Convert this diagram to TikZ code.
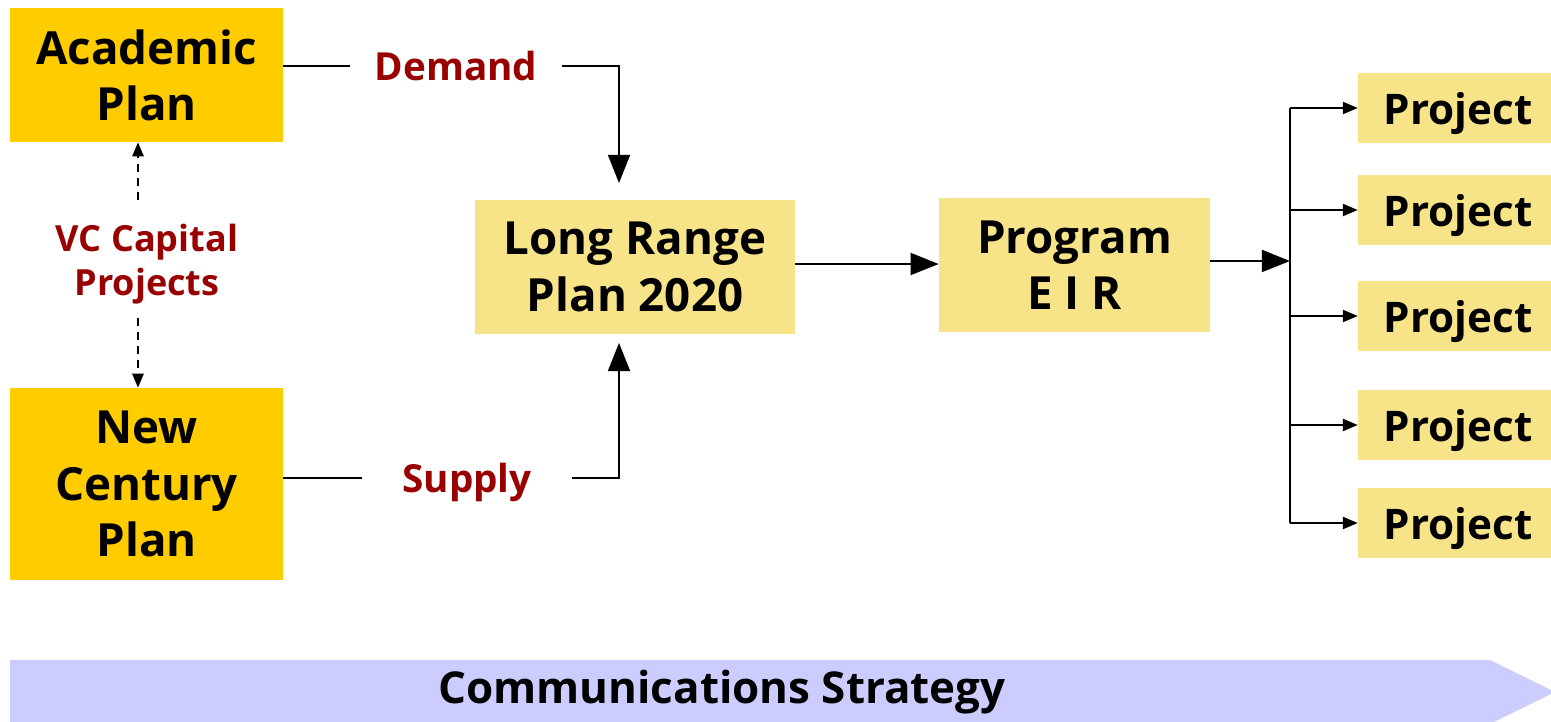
\documentclass[tikz,border=0pt]{standalone}
\usepackage{fontspec}
\setmainfont{Open Sans}
\usetikzlibrary{arrows.meta,positioning}
\definecolor{planGold}{HTML}{FFCC00}
\definecolor{planPale}{HTML}{F7E388}
\definecolor{labelRed}{HTML}{990000}
\definecolor{bandBlue}{HTML}{CCCCFF}

\begin{document}
\begin{tikzpicture}[x=0.02cm,y=-0.02cm,
	every node/.style={inner sep=0pt},
	goldbox/.style={fill=planGold, align=center, font=\fontsize{26}{32}\selectfont\bfseries},
	palebox/.style={fill=planPale, align=center, font=\fontsize{26}{32}\selectfont\bfseries},
	projbox/.style={fill=planPale, minimum width=4cm, minimum height=1.4cm, text depth=0pt, font=\fontsize{24}{28}\selectfont\bfseries},
	redlabel/.style={text=labelRed, align=center, text depth=0pt, font=\fontsize{22}{26}\selectfont\bfseries},
	flow/.style={line width=1.1pt},
	bigarrow/.style={flow, -{Triangle[width=12.5pt,length=16pt]}},
	smallarrow/.style={line width=0.9pt, -{Triangle[width=7pt,length=8.5pt]}},
	dasharrow/.style={line width=0.9pt, dash pattern=on 4.5pt off 3.5pt, -{Triangle[width=6.5pt,length=8pt]}}]
	
	\useasboundingbox (0,0) rectangle (1551,722);
	
	%% source plans
	\node[goldbox, minimum width=5.46cm, minimum height=2.68cm] (Academic) at (146.5,75) {Academic\\Plan};
	\node[goldbox, minimum width=5.46cm, minimum height=3.84cm] (NewCentury) at (146.5,484) {New\\Century\\Plan};
	
	%% VC link between the two plans
	\node[redlabel, font=\fontsize{20.5}{25}\selectfont\bfseries] (vc) at (147,260) {VC Capital\\Projects};
	\coordinate (vctop) at (138,200);
	\coordinate (vcbot) at (138,318);
	\draw[dasharrow] (vctop) -- (vctop |- Academic.south);
	\draw[dasharrow] (vcbot) -- (vcbot |- NewCentury.north);
	
	%% long range plan and EIR
	\node[palebox, minimum width=6.4cm, minimum height=2.68cm] (LRP) at (635,267) {Long Range\\Plan 2020};
	\node[palebox, minimum width=5.42cm, minimum height=2.68cm] (EIR) at (1074.5,265) {Program\\E I R};
	
	%% demand and supply
	\node[redlabel, inner xsep=13.6pt] (demand) at (456,66) {Demand};
	\node[redlabel, inner xsep=22.5pt] (supply) at (467,478) {Supply};
	\coordinate (dtip) at (619,183);
	\coordinate (stip) at (619,343);
	\draw[flow] (demand.west -| Academic.east) -- (demand.west);
	\draw[bigarrow] (demand.east) -| (dtip);
	\draw[flow] (supply.west -| NewCentury.east) -- (supply.west);
	\draw[bigarrow] (supply.east) -| (stip);
	
	\draw[bigarrow] ([yshift=1.7pt]LRP.east) -- ([yshift=1.7pt]LRP.east -| EIR.west);
	
	%% projects
	\coordinate (trunk) at (1290,261);
	\foreach \y [count=\i] in {108,210,316,425,523}
		\node[projbox] (proj\i) at (1458,\y) {Project};
	\draw[bigarrow] (trunk -| EIR.east) -- (trunk);
	\draw[flow] (proj1.west -| trunk) -- (proj5.west -| trunk);
	\foreach \i in {1,...,5}
		\draw[smallarrow] (proj\i.west -| trunk) -- (proj\i.west);
	
	%% communications band
	\fill[bandBlue] (10,660) -- (1490,660) -- (1555,692) -- (1490,724) -- (10,724) -- cycle;
	\node[font=\fontsize{25}{30}\selectfont\bfseries, text depth=0pt] (comms) at (722,687) {Communications Strategy};
	
\end{tikzpicture}
\end{document}
